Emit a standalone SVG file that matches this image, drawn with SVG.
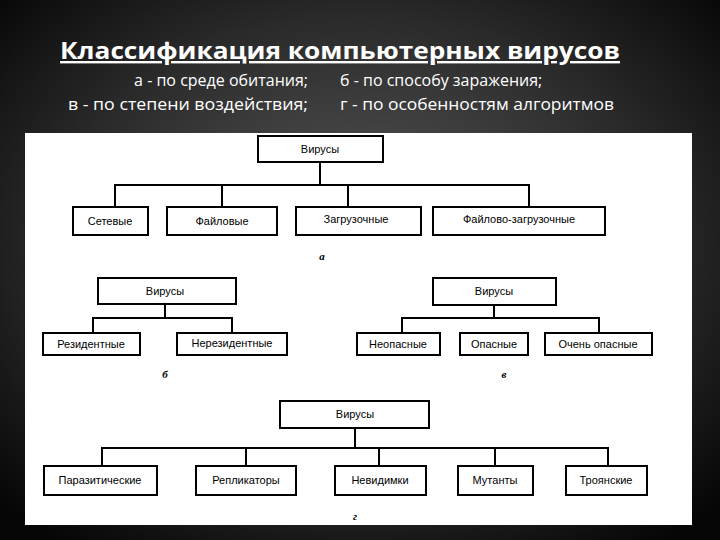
<svg xmlns="http://www.w3.org/2000/svg" width="720" height="540" viewBox="0 0 720 540">
<defs>
<radialGradient id="bg" cx="50%" cy="45%" r="70%">
<stop offset="0" stop-color="#5a5a5a"/><stop offset="0.6" stop-color="#2a2a2a"/><stop offset="1" stop-color="#050505"/>
</radialGradient>
<style>
.b{fill:#fff;stroke:#000;stroke-width:2}
.t{font-family:"Liberation Sans",Arial,sans-serif;font-size:11px;fill:#000;text-anchor:middle}
.l{font-family:"Liberation Serif",serif;font-size:11px;font-weight:bold;font-style:italic;fill:#000;text-anchor:middle}
.h{font-family:"Open Sans","DejaVu Sans",sans-serif;fill:#fff}
#c path{fill:none;stroke:#000;stroke-width:2}
</style>
</defs>
<rect width="720" height="540" fill="url(#bg)"/>
<text class="h" x="60" y="59" font-size="24" font-weight="bold" text-decoration="underline" textLength="560" lengthAdjust="spacingAndGlyphs">Классификация компьютерных вирусов</text>
<text class="h" x="308" y="86" font-size="16" text-anchor="end">а - по среде обитания;</text>
<text class="h" x="308" y="110" font-size="16" text-anchor="end" textLength="240" lengthAdjust="spacingAndGlyphs">в - по степени воздействия;</text>
<text class="h" x="340" y="86" font-size="16">б - по способу заражения;</text>
<text class="h" x="340" y="110" font-size="16" textLength="274" lengthAdjust="spacingAndGlyphs">г - по особенностям алгоритмов</text>
<rect x="25" y="133" width="667" height="392" fill="#fff"/>
<g id="c">
<path d="M320 162V185M115 207V185H529V207M222 185V207M348 185V207"/>
<path d="M165 304V318M93 333V318H232V333"/>
<path d="M494 305V318M402 333V318H599V333"/>
<path d="M355 428V448M102 466V448H608V466M246 448V466M379 448V466M495 448V466"/>
</g>
<g id="a0"><rect class="b" x="258" y="136" width="125" height="26"/><text class="t" x="320" y="153">Вирусы</text></g>
<g id="a1"><rect class="b" x="73" y="207" width="75" height="28"/><text class="t" x="110" y="225">Сетевые</text></g>
<g id="a2"><rect class="b" x="167" y="207" width="110" height="28"/><text class="t" x="222" y="225">Файловые</text></g>
<g id="a3"><rect class="b" x="296" y="207" width="125" height="28"/><text class="t" x="356" y="223">Загрузочные</text></g>
<g id="a4"><rect class="b" x="433" y="207" width="172" height="28"/><text class="t" x="519" y="223">Файлово-загрузочные</text></g>
<text class="l" x="322" y="260">а</text>
<g id="b0"><rect class="b" x="98" y="278" width="138" height="26"/><text class="t" x="165" y="295">Вирусы</text></g>
<g id="b1"><rect class="b" x="43" y="333" width="97" height="22"/><text class="t" x="91" y="348">Резидентные</text></g>
<g id="b2"><rect class="b" x="177" y="333" width="110" height="22"/><text class="t" x="232" y="347">Нерезидентные</text></g>
<text class="l" x="165" y="378">б</text>
<g id="v0"><rect class="b" x="433" y="278" width="123" height="27"/><text class="t" x="494" y="295">Вирусы</text></g>
<g id="v1"><rect class="b" x="357" y="333" width="83" height="22"/><text class="t" x="398" y="348">Неопасные</text></g>
<g id="v2"><rect class="b" x="460" y="333" width="68" height="22"/><text class="t" x="494" y="348">Опасные</text></g>
<g id="v3"><rect class="b" x="545" y="333" width="107" height="22"/><text class="t" x="598" y="348">Очень опасные</text></g>
<text class="l" x="504" y="378">в</text>
<g id="g0"><rect class="b" x="280" y="401" width="149" height="27"/><text class="t" x="355" y="418">Вирусы</text></g>
<g id="g1"><rect class="b" x="44" y="466" width="113" height="29"/><text class="t" x="100" y="484">Паразитические</text></g>
<g id="g2"><rect class="b" x="196" y="466" width="100" height="29"/><text class="t" x="246" y="484">Репликаторы</text></g>
<g id="g3"><rect class="b" x="335" y="466" width="91" height="29"/><text class="t" x="380" y="484">Невидимки</text></g>
<g id="g4"><rect class="b" x="458" y="466" width="75" height="29"/><text class="t" x="495" y="484">Мутанты</text></g>
<g id="g5"><rect class="b" x="566" y="466" width="81" height="29"/><text class="t" x="606" y="484">Троянские</text></g>
<text class="l" x="355" y="520">г</text>
</svg>
